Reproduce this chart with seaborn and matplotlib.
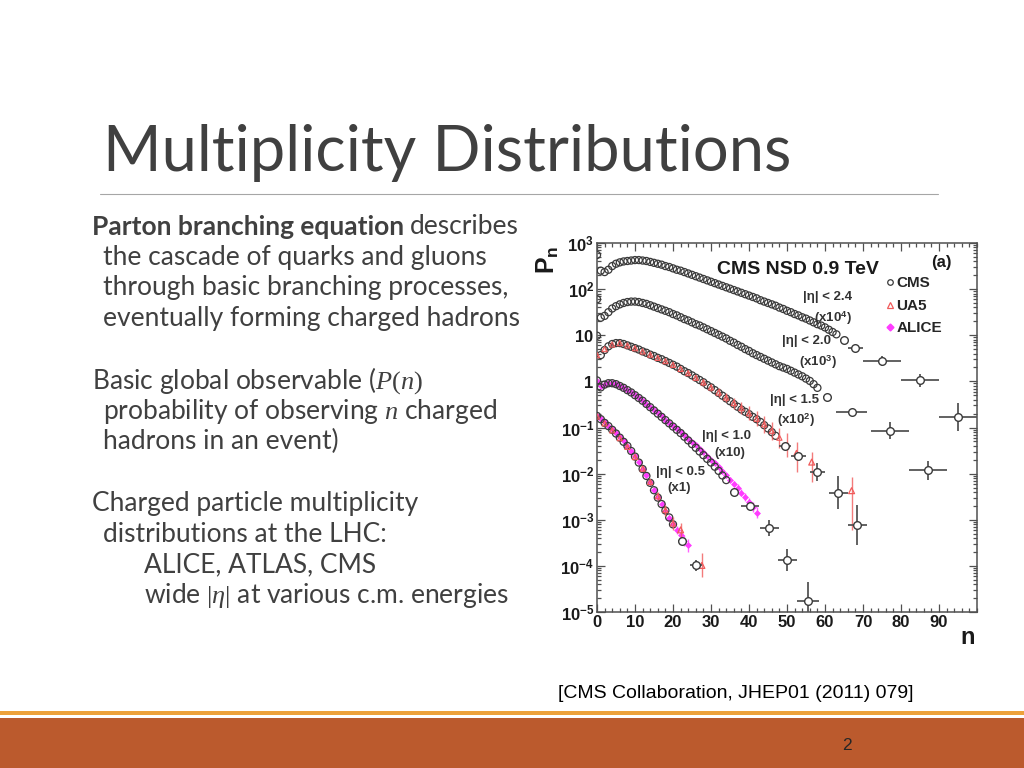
import numpy as np
import pandas as pd
import matplotlib
matplotlib.use('Agg')
import matplotlib.pyplot as plt
from matplotlib.lines import Line2D
from matplotlib.patches import Rectangle
from matplotlib.ticker import FixedLocator, FixedFormatter, LogLocator, NullFormatter, MultipleLocator
import seaborn as sns

sns.set_theme(style='ticks')
plt.rcParams['font.family'] = ['Lato', 'DejaVu Sans']
plt.rcParams['mathtext.fontset'] = 'custom'
plt.rcParams['mathtext.rm'] = 'Liberation Serif'
plt.rcParams['mathtext.it'] = 'Liberation Serif:italic'
plt.rcParams['mathtext.bf'] = 'Liberation Sans:bold'

TEXT = '#404040'
CMS_C = '#3a3a3a'
UA5_C = '#f05a5a'
ALICE_C = '#ff3cff'
ROOT_FONT = ['Liberation Sans', 'DejaVu Sans']

# --- data: log10 of the (scaled) P_n values ---
# |eta| < 2.4 (x10^4)
cms24_n = list(range(0, 64))
cms24_log = [2.74, 2.40, 2.37, 2.42, 2.50, 2.55, 2.58, 2.60, 2.61, 2.62,
             2.63, 2.63, 2.62, 2.61, 2.59, 2.57, 2.55, 2.53, 2.50, 2.48,
             2.45, 2.42, 2.40, 2.37, 2.34, 2.31, 2.28, 2.25, 2.22, 2.19,
             2.16, 2.13, 2.10, 2.07, 2.04, 2.01, 1.98, 1.95, 1.92, 1.89,
             1.86, 1.83, 1.80, 1.76, 1.73, 1.70, 1.67, 1.64, 1.60, 1.57,
             1.53, 1.50, 1.46, 1.43, 1.39, 1.36, 1.32, 1.28, 1.24, 1.21,
             1.17, 1.12, 1.07, 1.02]
cms24_tail_n = [65, 68, 75, 85, 95]
cms24_tail_log = [0.90, 0.72, 0.44, 0.02, -0.77]
cms24_tail_xerr = [1, 2, 5, 5, 5]
cms24_tail_err = [0.02, 0.04, 0.11, 0.15, 0.30]

# |eta| < 2.0 (x10^3)
cms20_n = list(range(0, 59))
cms20_log = [1.78, 1.38, 1.42, 1.50, 1.58, 1.63, 1.67, 1.70, 1.72, 1.73,
             1.73, 1.72, 1.70, 1.68, 1.65, 1.62, 1.59, 1.56, 1.53, 1.50,
             1.46, 1.43, 1.39, 1.35, 1.32, 1.28, 1.24, 1.21, 1.17, 1.13,
             1.09, 1.05, 1.01, 0.97, 0.93, 0.88, 0.84, 0.79, 0.75, 0.70,
             0.66, 0.61, 0.57, 0.53, 0.49, 0.45, 0.41, 0.37, 0.33, 0.30,
             0.27, 0.23, 0.19, 0.15, 0.11, 0.06, 0.01, -0.06, -0.14]
cms20_tail_n = [60.5, 67, 77, 87]
cms20_tail_log = [-0.33, -0.66, -1.07, -1.93]
cms20_tail_xerr = [1, 4, 5, 5]
cms20_tail_err = [0.03, 0.05, 0.18, 0.20]

# |eta| < 1.5 (x10^2)
cms15_n = list(range(0, 48))
cms15_log = [0.99, 0.57, 0.68, 0.76, 0.81, 0.83, 0.83, 0.81, 0.78, 0.75,
             0.72, 0.69, 0.65, 0.62, 0.58, 0.55, 0.51, 0.48, 0.44, 0.40,
             0.36, 0.32, 0.27, 0.22, 0.18, 0.13, 0.08, 0.03, -0.02, -0.08,
             -0.13, -0.19, -0.25, -0.31, -0.37, -0.43, -0.49, -0.55, -0.61, -0.66,
             -0.71, -0.77, -0.82, -0.88, -0.95, -1.02, -1.10, -1.18]
cms15_tail_n = [49.5, 53, 58, 63.5, 68.5]
cms15_tail_log = [-1.40, -1.62, -1.97, -2.41, -3.11]
cms15_tail_xerr = [1.5, 2, 2, 2.5, 2.5]
cms15_tail_err = [0.04, 0.09, 0.20, 0.36, 0.44]

ua5_15_n = list(range(0, 51, 2))
ua5_15_log = [0.57, 0.70, 0.80, 0.83, 0.78, 0.72, 0.65, 0.58, 0.51, 0.44,
              0.36, 0.27, 0.18, 0.08, -0.02, -0.13, -0.24, -0.35, -0.47, -0.58,
              -0.69, -0.81, -0.93, -1.07, -1.22, -1.38]
ua5_15_err = [0.02, 0.02, 0.02, 0.02, 0.02, 0.02, 0.02, 0.03, 0.03, 0.03,
              0.04, 0.04, 0.05, 0.06, 0.07, 0.08, 0.09, 0.10, 0.12, 0.13,
              0.15, 0.16, 0.18, 0.20, 0.22, 0.25]
ua5_15_tail_n = [52.5, 56.5, 67]
ua5_15_tail_log = [-1.56, -1.75, -2.37]
ua5_15_tail_up = [0.24, 0.21, 0.29]
ua5_15_tail_dn = [0.41, 0.44, 0.85]

# |eta| < 1.0 (x10)
cms10_n = list(range(0, 35))
cms10_log = [0.02, -0.13, -0.07, -0.04, -0.04, -0.06, -0.10, -0.14, -0.19, -0.24,
             -0.30, -0.36, -0.42, -0.49, -0.56, -0.63, -0.70, -0.77, -0.84, -0.91,
             -0.98, -1.05, -1.12, -1.20, -1.28, -1.36, -1.44, -1.52, -1.60, -1.68,
             -1.76, -1.85, -1.94, -2.04, -2.14]
cms10_tail_n = [36, 40.3, 45.3, 50, 55.5]
cms10_tail_log = [-2.39, -2.70, -3.18, -3.88, -4.76]
cms10_tail_xerr = [1, 2.3, 2.5, 2.5, 3]
cms10_tail_err = [0.05, 0.08, 0.18, 0.24, 0.40]

alice10_n = list(range(0, 43))
alice10_log = [0.00, -0.10, -0.06, -0.03, -0.04, -0.06, -0.10, -0.14, -0.19, -0.24,
               -0.30, -0.36, -0.42, -0.48, -0.55, -0.62, -0.69, -0.76, -0.83, -0.90,
               -0.97, -1.03, -1.10, -1.17, -1.24, -1.31, -1.39, -1.46, -1.54, -1.62,
               -1.70, -1.78, -1.86, -1.95, -2.04, -2.13, -2.22, -2.31, -2.41, -2.51,
               -2.62, -2.73, -2.85]
alice10_err = [0.01] * 25 + [0.02, 0.02, 0.03, 0.03, 0.03, 0.04, 0.04, 0.05, 0.05, 0.06,
                             0.06, 0.07, 0.08, 0.08, 0.09, 0.10, 0.11, 0.12]

# |eta| < 0.5 (x1)
cms05_n = list(range(0, 21))
cms05_log = [-0.75, -0.82, -0.90, -0.97, -1.05, -1.13, -1.22, -1.31, -1.40, -1.51,
             -1.63, -1.76, -1.90, -2.05, -2.20, -2.36, -2.52, -2.66, -2.80, -2.95,
             -3.10]
cms05_tail_n = [22.3, 26]
cms05_tail_log = [-3.46, -3.99]
cms05_tail_xerr = [1, 1.5]
cms05_tail_err = [0.08, 0.12]

ua5_05_n = list(range(0, 21, 2))
ua5_05_log = [-0.76, -0.91, -1.06, -1.23, -1.42, -1.64, -1.89, -2.18, -2.49, -2.79, -3.08]
ua5_05_err = [0.02, 0.02, 0.02, 0.03, 0.03, 0.04, 0.05, 0.07, 0.09, 0.12, 0.14]
ua5_05_tail_n = [22, 27.6]
ua5_05_tail_log = [-3.22, -3.99]
ua5_05_tail_up = [0.15, 0.26]
ua5_05_tail_dn = [0.22, 0.26]

alice05_n = list(range(0, 25))
alice05_log = [-0.74, -0.81, -0.89, -0.96, -1.04, -1.12, -1.21, -1.30, -1.40, -1.51,
               -1.62, -1.75, -1.89, -2.04, -2.19, -2.35, -2.51, -2.66, -2.81, -2.96,
               -3.10, -3.22, -3.33, -3.45, -3.55]
alice05_err = [0.01] * 12 + [0.02, 0.02, 0.03, 0.03, 0.04, 0.05, 0.06, 0.07, 0.08, 0.09,
                             0.10, 0.12, 0.14]

eta_labels = ['|η| < 2.4', '|η| < 2.0', '|η| < 1.5', '|η| < 1.0', '|η| < 0.5']
scale_labels = [r'(x10$^{\mathbf{4}}$)', r'(x10$^{\mathbf{3}}$)', r'(x10$^{\mathbf{2}}$)',
                '(x10)', '(x1)']
ytick_labels = [r'$\mathbf{10^{-5}}$', r'$\mathbf{10^{-4}}$', r'$\mathbf{10^{-3}}$',
                r'$\mathbf{10^{-2}}$', r'$\mathbf{10^{-1}}$', r'$\mathbf{1}$',
                r'$\mathbf{10}$', r'$\mathbf{10^{2}}$', r'$\mathbf{10^{3}}$']


def fx(x):
    return x / 1024


def fy(y):
    return 1 - y / 768


def log_err(logv, dn, up):
    v = np.power(10.0, logv)
    return v, [v - np.power(10.0, np.array(logv) - np.array(dn)),
               np.power(10.0, np.array(logv) + np.array(up)) - v]


def dense_points(ax, n, logv, marker, face, edge, size, lw, z):
    df = pd.DataFrame({'n': n, 'P': np.power(10.0, logv)})
    sns.scatterplot(data=df, x='n', y='P', ax=ax, marker=marker, s=size, color=edge,
                    facecolor=face, edgecolor=edge, linewidth=lw, zorder=z, legend=False)


def cms_tail(ax, n, logv, xerr, err):
    v, yerr = log_err(logv, err, err)
    ax.errorbar(n, v, xerr=xerr, yerr=yerr, fmt='o', ms=5.5, mfc='white', mec=CMS_C,
                mew=1.0, ecolor='#555555', elinewidth=1.3, capsize=0, zorder=5)


def bars(ax, n, logv, dn, up, color, z):
    v, yerr = log_err(logv, dn, up)
    ax.errorbar(n, v, yerr=yerr, fmt='none', ecolor=color, elinewidth=1.0, alpha=0.8,
                capsize=0, zorder=z)


fig = plt.figure(figsize=(10.24, 7.68), dpi=100)
fig.patch.set_facecolor('white')

# --- slide decoration ---
fig.text(fx(103), fy(153), 'Multiplicity Distributions', fontsize=45.5, color=TEXT,
         ha='left', va='center')
fig.add_artist(Line2D([fx(100), fx(938)], [fy(194), fy(194)], color='#a6a6a6', lw=0.8))
fig.add_artist(Rectangle((0, 0), 1, 50 / 768, transform=fig.transFigure,
                         color='#bb5a2d', lw=0))
fig.add_artist(Rectangle((0, fy(715)), 1, 4 / 768, transform=fig.transFigure,
                         color='#eda13a', lw=0))
fig.text(fx(847), fy(745), '2', fontsize=12.5, color='#262626', ha='center', va='center',
         family=ROOT_FONT)
fig.text(fx(558), fy(694), '[CMS Collaboration, JHEP01 (2011) 079]', fontsize=14,
         color='black', ha='left', va='center', family=ROOT_FONT)

# --- bullet text ---
body_size = 19
renderer = fig.canvas.get_renderer()
t = fig.text(fx(92), fy(227), 'Parton branching equation', fontsize=body_size,
             color=TEXT, weight='bold', ha='left', va='center')
bb = t.get_window_extent(renderer)
fig.text(bb.x1 / fig.bbox.width + 0.006, fy(227), 'describes', fontsize=body_size,
         color=TEXT, ha='left', va='center')
lines = [
    (103, 257, 'the cascade of quarks and gluons'),
    (103, 288, 'through basic branching processes,'),
    (103, 319, 'eventually forming charged hadrons'),
    (92, 381, 'Basic global observable ($P(n)$'),
    (103, 411, 'probability of observing $n$ charged'),
    (103, 441, 'hadrons in an event)'),
    (92, 503, 'Charged particle multiplicity'),
    (103, 534, 'distributions at the LHC:'),
    (144, 565, 'ALICE, ATLAS, CMS'),
    (144, 596, 'wide $|\\eta|$ at various c.m. energies'),
]
for x, y, s in lines:
    fig.text(fx(x), fy(y), s, fontsize=body_size, color=TEXT, ha='left', va='center')

# --- the chart ---
ax = fig.add_axes([fx(597), fy(612), 380 / 1024, 369 / 768])
ax.set_yscale('log')

dense_points(ax, alice10_n, alice10_log, 'D', ALICE_C, ALICE_C, 9, 0.5, 2)
bars(ax, alice10_n, alice10_log, alice10_err, alice10_err, ALICE_C, 2)
dense_points(ax, alice05_n, alice05_log, 'D', ALICE_C, ALICE_C, 9, 0.5, 2)
bars(ax, alice05_n, alice05_log, alice05_err, alice05_err, ALICE_C, 2)

for n, lv in [(cms24_n, cms24_log), (cms20_n, cms20_log), (cms15_n, cms15_log),
              (cms10_n, cms10_log), (cms05_n, cms05_log)]:
    dense_points(ax, n, lv, 'o', 'none', CMS_C, 26, 0.9, 3)

bars(ax, ua5_15_n, ua5_15_log, ua5_15_err, ua5_15_err, UA5_C, 4)
dense_points(ax, ua5_15_n, ua5_15_log, '^', 'none', UA5_C, 14, 0.8, 4)
bars(ax, ua5_05_n, ua5_05_log, ua5_05_err, ua5_05_err, UA5_C, 4)
dense_points(ax, ua5_05_n, ua5_05_log, '^', 'none', UA5_C, 14, 0.8, 4)
for n, lv, dn, up in [(ua5_15_tail_n, ua5_15_tail_log, ua5_15_tail_dn, ua5_15_tail_up),
                      (ua5_05_tail_n, ua5_05_tail_log, ua5_05_tail_dn, ua5_05_tail_up)]:
    bars(ax, n, lv, dn, up, UA5_C, 4)
    dense_points(ax, n, lv, '^', 'none', UA5_C, 18, 0.9, 4)

for n, lv, xe, e in [(cms24_tail_n, cms24_tail_log, cms24_tail_xerr, cms24_tail_err),
                     (cms20_tail_n, cms20_tail_log, cms20_tail_xerr, cms20_tail_err),
                     (cms15_tail_n, cms15_tail_log, cms15_tail_xerr, cms15_tail_err),
                     (cms10_tail_n, cms10_tail_log, cms10_tail_xerr, cms10_tail_err),
                     (cms05_tail_n, cms05_tail_log, cms05_tail_xerr, cms05_tail_err)]:
    cms_tail(ax, n, lv, xe, e)

ax.set_xlim(0, 100)
ax.set_ylim(1e-5, 1e3)
ax.set_xlabel('')
ax.set_ylabel('')
ax.xaxis.set_major_locator(FixedLocator(list(range(0, 91, 10))))
ax.xaxis.set_minor_locator(MultipleLocator(2))
ax.yaxis.set_major_locator(FixedLocator([1e-5, 1e-4, 1e-3, 1e-2, 1e-1, 1, 10, 100, 1000]))
ax.yaxis.set_major_formatter(FixedFormatter(ytick_labels))
ax.yaxis.set_minor_locator(LogLocator(base=10, subs=range(2, 10), numticks=20))
ax.yaxis.set_minor_formatter(NullFormatter())
ax.tick_params(which='both', direction='in', top=True, right=True, color='#505050',
               width=0.9, labelsize=12, pad=2)
ax.tick_params(which='major', length=6)
ax.tick_params(which='minor', length=3)
for lbl in ax.get_xticklabels() + ax.get_yticklabels():
    lbl.set_family(ROOT_FONT)
    lbl.set_fontweight('bold')
    lbl.set_color('#1a1a1a')
for sp in ax.spines.values():
    sp.set_color('#505050')
    sp.set_linewidth(1.1)

ax.text(-0.13, 0.955, r'$\mathbf{P_n}$', transform=ax.transAxes, rotation=90,
        fontsize=18, ha='center', va='center', color='#1a1a1a')
ax.text(0.976, -0.07, 'n', transform=ax.transAxes, fontsize=17, weight='bold',
        family=ROOT_FONT, ha='center', va='center', color='#1a1a1a')
ax.text(0.529, 0.927, 'CMS NSD 0.9 TeV', transform=ax.transAxes, fontsize=14,
        weight='bold', family=ROOT_FONT, ha='center', va='center', color='#1a1a1a')
ax.text(0.905, 0.946, '(a)', transform=ax.transAxes, fontsize=12, weight='bold',
        family=ROOT_FONT, ha='center', va='center', color='#1a1a1a')

eta_pos = [(0.608, 0.854), (0.55, 0.734), (0.521, 0.575), (0.342, 0.477), (0.221, 0.379)]
scale_pos = [(0.621, 0.797), (0.582, 0.678), (0.524, 0.520), (0.35, 0.431), (0.216, 0.336)]
for lab, (x, y) in zip(eta_labels, eta_pos):
    ax.text(x, y, lab, transform=ax.transAxes, fontsize=9.5, weight='bold',
            family=ROOT_FONT, ha='center', va='center', color='#333333')
for lab, (x, y) in zip(scale_labels, scale_pos):
    ax.text(x, y, lab, transform=ax.transAxes, fontsize=9.5, weight='bold',
            family=ROOT_FONT, ha='center', va='center', color='#333333')

handles = [
    Line2D([], [], ls='none', marker='o', ms=4, mfc='none', mec=CMS_C, mew=0.9),
    Line2D([], [], ls='none', marker='^', ms=4, mfc='none', mec=UA5_C, mew=0.9),
    Line2D([], [], ls='none', marker='D', ms=3.5, mfc=ALICE_C, mec=ALICE_C),
]
leg = ax.legend(handles, ['CMS', 'UA5', 'ALICE'], loc='upper left',
                bbox_to_anchor=(0.74, 0.93), frameon=False, handlelength=0.6,
                handletextpad=0.1, labelspacing=0.55, borderpad=0,
                prop={'family': ROOT_FONT, 'weight': 'bold', 'size': 11})

fig.savefig('out.png', dpi=100)
